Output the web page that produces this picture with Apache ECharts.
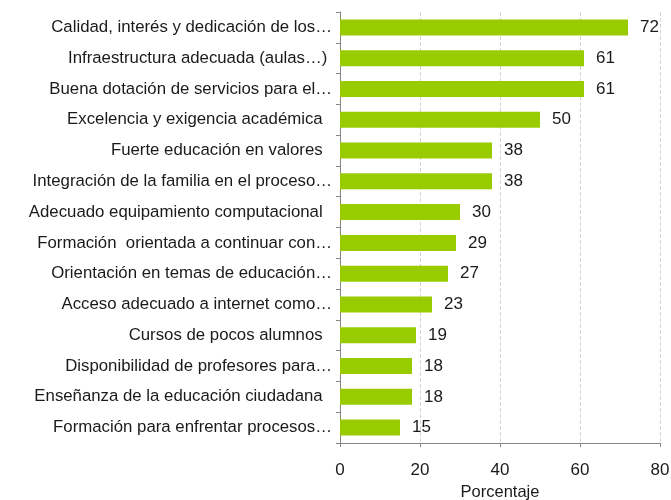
<!DOCTYPE html>
<html>
<head>
  <meta charset="utf-8">
  <title>Porcentaje</title>
  <script src="https://cdn.jsdelivr.net/npm/echarts@6/dist/echarts.min.js"></script>
  <style>
    html, body { margin: 0; padding: 0; background: #fff; }
    #chart { width: 671px; height: 500px; }
  </style>
</head>
<body>
<div id="chart"></div>
<script>
  // categorías (de arriba hacia abajo)
  var categorias = [
    'Calidad, interés y dedicación de los…',
    'Infraestructura adecuada (aulas…) ',
    'Buena dotación de servicios para el…',
    'Excelencia y exigencia académica  ',
    'Fuerte educación en valores  ',
    'Integración de la familia en el proceso…',
    'Adecuado equipamiento computacional  ',
    'Formación  orientada a continuar con…',
    'Orientación en temas de educación…',
    'Acceso adecuado a internet como…',
    'Cursos de pocos alumnos  ',
    'Disponibilidad de profesores para…',
    'Enseñanza de la educación ciudadana  ',
    'Formación para enfrentar procesos…'
  ];
  var porcentajes = [72, 61, 61, 50, 38, 38, 30, 29, 27, 23, 19, 18, 18, 15];
  var ticksX = [0, 20, 40, 60, 80];

  var fuente = '"Liberation Sans", Arial, sans-serif';
  var myChart = echarts.init(document.getElementById('chart'));

  var option = {
    animation: false,
    grid: { left: 340, right: 11, top: 12, bottom: 57, containLabel: false, outerBoundsMode: 'none' },
    xAxis: {
      type: 'value',
      min: ticksX[0],
      max: ticksX[ticksX.length - 1],
      interval: 20,
      name: 'Porcentaje',
      nameLocation: 'middle',
      nameGap: 37,
      nameTextStyle: { fontSize: 16.5, color: '#1a1a1a', fontFamily: fuente },
      axisLine: { show: true, lineStyle: { color: '#868686' } },
      axisTick: { show: true, length: 4, lineStyle: { color: '#868686' } },
      axisLabel: { fontSize: 17, color: '#1a1a1a', fontFamily: fuente, margin: 19 },
      splitLine: { show: true, lineStyle: { color: '#d4d4d4', type: 'dashed' } }
    },
    yAxis: {
      type: 'category',
      inverse: true,
      data: categorias,
      axisLine: { show: true, lineStyle: { color: '#868686' } },
      axisTick: { show: true, length: 4, lineStyle: { color: '#868686' } },
      axisLabel: { fontSize: 16.8, color: '#1a1a1a', fontFamily: fuente, margin: 8 }
    },
    series: [{
      type: 'bar',
      data: porcentajes,
      barCategoryGap: '48%',
      itemStyle: { color: '#99cc00' },
      label: {
        show: true,
        position: 'right',
        distance: 12,
        fontSize: 17,
        color: '#1a1a1a',
        fontFamily: fuente
      }
    }]
  };

  myChart.setOption(option);
</script>
</body>
</html>
